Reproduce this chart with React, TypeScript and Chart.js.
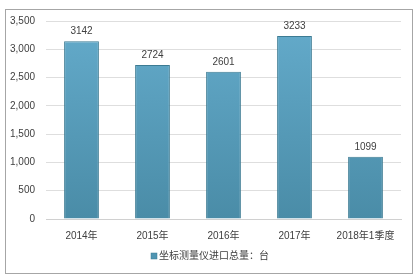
import React, { useEffect, useRef } from "react";
import { Chart, registerables } from "chart.js";

Chart.register(...registerables);

const categories = ["2014年", "2015年", "2016年", "2017年", "2018年1季度"];
const values = [3142, 2724, 2601, 3233, 1099];
const seriesName = "坐标测量仪进口总量：台";
const yTicks = [0, 500, 1000, 1500, 2000, 2500, 3000, 3500];

const FONT = "'Liberation Sans', 'Noto Sans CJK SC', sans-serif";

export default function App() {
  const ref = useRef<HTMLCanvasElement | null>(null);

  useEffect(() => {
    document.body.style.margin = "0";
    const canvas = ref.current!;
    const framePlugin = {
      id: "frame",
      beforeDraw(chart: any) {
        const ctx = chart.ctx;
        ctx.save();
        ctx.fillStyle = "#ffffff";
        ctx.fillRect(0, 0, chart.width, chart.height);
        ctx.strokeStyle = "#a6a6a6";
        ctx.lineWidth = 1;
        ctx.strokeRect(5.5, 9.5, 407, 264);
        ctx.restore();
      },
      afterDatasetsDraw(chart: any) {
        const ctx = chart.ctx;
        const meta = chart.getDatasetMeta(0);
        ctx.save();
        ctx.font = `10px ${FONT}`;
        ctx.fillStyle = "#404040";
        ctx.textAlign = "center";
        ctx.textBaseline = "middle";
        meta.data.forEach((bar: any, i: number) => {
          ctx.fillText(String(values[i]), bar.x, bar.y - 10);
        });
        // legend
        ctx.font = `10px ${FONT}`;
        const tw = ctx.measureText(seriesName).width;
        const box = 6;
        const gap = 2;
        const total = box + gap + tw;
        const cx = 210;
        const x0 = Math.round(cx - total / 2);
        const ly = 256;
        ctx.fillStyle = "#4f95b2";
        ctx.fillRect(x0, ly - box / 2, box, box);
        ctx.strokeStyle = "#3c7b93";
        ctx.lineWidth = 0.5;
        ctx.strokeRect(x0, ly - box / 2, box, box);
        ctx.fillStyle = "#404040";
        ctx.textAlign = "left";
        ctx.fillText(seriesName, x0 + box + gap, ly);
        ctx.restore();
      },
    };

    const chart = new Chart(canvas, {
      type: "bar",
      data: {
        labels: categories,
        datasets: [
          {
            label: seriesName,
            data: values,
            backgroundColor: (c: any) => {
              const area = c.chart.chartArea;
              if (!area) return "#5aa2c2";
              const g = c.chart.ctx.createLinearGradient(0, area.top, 0, area.bottom);
              g.addColorStop(0, "#64abcb");
              g.addColorStop(1, "#4a8ca7");
              return g;
            },
            borderColor: "#3c7b93",
            borderWidth: 1,
            categoryPercentage: 1,
            barPercentage: 0.49,
          },
        ],
      },
      options: {
        responsive: false,
        animation: false,
        layout: { padding: { top: 21, left: 0, right: 16, bottom: 0 } },
        plugins: { legend: { display: false }, tooltip: { enabled: false } },
        scales: {
          x: {
            grid: { display: false },
            border: { display: true, color: "#d0d0d0" },
            ticks: { font: { family: FONT, size: 10 }, color: "#404040", padding: 3 },
            afterFit: (s: any) => {
              s.height = 60;
            },
          },
          y: {
            min: 0,
            max: 3500,
            afterBuildTicks: (s: any) => {
              s.ticks = yTicks.map((v) => ({ value: v }));
            },
            grid: { color: "#dedede", drawTicks: false },
            border: { display: false },
            ticks: {
              font: { family: FONT, size: 10 },
              color: "#404040",
              padding: 11,
              callback: (v: any) => Number(v).toLocaleString("en-US"),
            },
            afterFit: (s: any) => {
              s.width = 46;
            },
          },
        },
      },
      plugins: [framePlugin],
    });
    return () => chart.destroy();
  }, []);

  return (
    <div style={{ width: 417, height: 279 }}>
      <canvas ref={ref} width={417} height={279} style={{ display: "block" }} />
    </div>
  );
}
